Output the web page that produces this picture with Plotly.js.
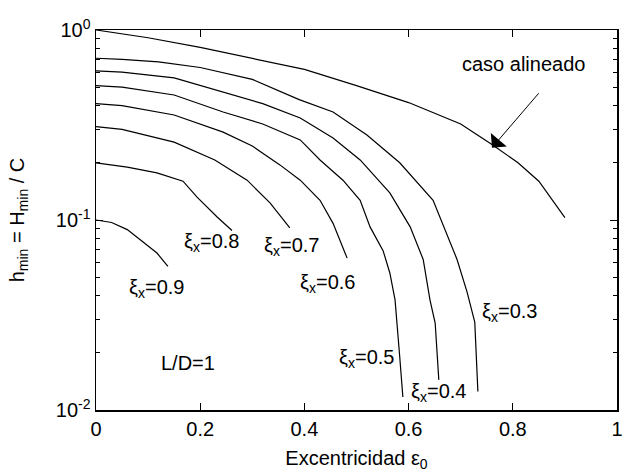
<!DOCTYPE html>
<html>
<head>
<meta charset="utf-8">
<script src="https://cdn.plot.ly/plotly-3.0.1.min.js"></script>
<style>
  body { margin: 0; background: #fff; }
  #plot { width: 622px; height: 472px; }
</style>
</head>
<body>
<div id="plot"></div>
<script>
// curves: excentricity vs h_min (log scale)
var alinX = [0, 0.1, 0.2, 0.3, 0.4, 0.5, 0.6, 0.7, 0.76, 0.81, 0.85, 0.9];
var alinY = [1.0, 0.91, 0.81, 0.71, 0.62, 0.51, 0.415, 0.32, 0.25, 0.2, 0.16, 0.103];

var xi03X = [0, 0.05, 0.12, 0.2, 0.3, 0.39, 0.455, 0.52, 0.583, 0.647, 0.693, 0.712, 0.727, 0.733];
var xi03Y = [0.71, 0.70, 0.68, 0.635, 0.55, 0.43, 0.37, 0.28, 0.2, 0.127, 0.062, 0.042, 0.029, 0.0125];

var xi04X = [0, 0.05, 0.15, 0.244, 0.32, 0.392, 0.455, 0.507, 0.564, 0.603, 0.628, 0.641, 0.651, 0.658];
var xi04Y = [0.61, 0.6, 0.56, 0.47, 0.41, 0.344, 0.27, 0.207, 0.139, 0.092, 0.062, 0.038, 0.0287, 0.0144];

var xi05X = [0, 0.05, 0.15, 0.244, 0.32, 0.392, 0.43, 0.474, 0.507, 0.526, 0.551, 0.564, 0.574, 0.578, 0.583, 0.589];
var xi05Y = [0.51, 0.5, 0.455, 0.37, 0.32, 0.264, 0.207, 0.162, 0.127, 0.092, 0.069, 0.0526, 0.038, 0.0287, 0.019, 0.0117];

var xi06X = [0, 0.05, 0.15, 0.244, 0.3, 0.353, 0.392, 0.43, 0.455, 0.482];
var xi06Y = [0.41, 0.4, 0.357, 0.29, 0.245, 0.195, 0.162, 0.127, 0.096, 0.063];

var xi07X = [0, 0.05, 0.15, 0.228, 0.29, 0.334, 0.372];
var xi07Y = [0.31, 0.3, 0.257, 0.207, 0.162, 0.123, 0.091];

var xi08X = [0, 0.06, 0.117, 0.167, 0.194, 0.232, 0.261];
var xi08Y = [0.2, 0.19, 0.177, 0.16, 0.132, 0.104, 0.088];

var xi09X = [0, 0.03, 0.06, 0.09, 0.117, 0.138];
var xi09Y = [0.1, 0.097, 0.089, 0.077, 0.067, 0.057];

// curve labels and where they sit
var labelText = ['0.9', '0.8', '0.7', '0.6', '0.5', '0.4', '0.3'];
var labelX = [0.117, 0.221, 0.376, 0.445, 0.52, 0.658, 0.793];
var labelY = [0.0435, 0.0757, 0.0729, 0.0465, 0.0187, 0.0123, 0.0327];

var xTicks = [0, 0.2, 0.4, 0.6, 0.8, 1];
var xTickText = ['0', '0.2', '0.4', '0.6', '0.8', '1'];
var yTicks = [0.01, 0.1, 1];
var yTickText = ['10<sup>-2</sup>', '10<sup>-1</sup>', '10<sup>0</sup>'];
var yMinor = [0.02, 0.03, 0.04, 0.05, 0.06, 0.07, 0.08, 0.09,
              0.2, 0.3, 0.4, 0.5, 0.6, 0.7, 0.8, 0.9];

var fnt = {family: 'Liberation Sans, Arial, sans-serif', size: 20, color: '#000'};

function curve(x, y) {
  return {x: x, y: y, mode: 'lines', type: 'scatter',
          line: {color: '#000', width: 1.2}, hoverinfo: 'skip'};
}

var data = [
  curve(alinX, alinY),
  curve(xi03X, xi03Y),
  curve(xi04X, xi04Y),
  curve(xi05X, xi05Y),
  curve(xi06X, xi06Y),
  curve(xi07X, xi07Y),
  curve(xi08X, xi08Y),
  curve(xi09X, xi09Y)
];

var annotations = labelText.map(function (t, i) {
  return {x: labelX[i], y: Math.log10(labelY[i]), xref: 'x', yref: 'y',
          text: '\u03BE<sub>x</sub>=' + t, showarrow: false, font: fnt};
});
annotations.push({x: 0.176, y: Math.log10(0.0177), xref: 'x', yref: 'y',
                  text: 'L/D=1', showarrow: false, font: fnt});
// arrow pointing at the aligned case curve
annotations.push({x: 0.76, y: Math.log10(0.24), xref: 'x', yref: 'y',
                  text: '', showarrow: true, arrowhead: 1,
                  arrowsize: 3.5, arrowwidth: 1, arrowcolor: '#000',
                  ax: 48, ay: -56});
annotations.push({x: 0.82, y: Math.log10(0.66), xref: 'x', yref: 'y',
                  text: 'caso alineado', showarrow: false, font: fnt});

var layout = {
  width: 622,
  height: 472,
  margin: {l: 96, r: 5, t: 30, b: 62},
  paper_bgcolor: '#fff',
  plot_bgcolor: '#fff',
  showlegend: false,
  font: fnt,
  xaxis: {
    range: [0, 1],
    tickvals: xTicks,
    ticktext: xTickText,
    ticklabeloverflow: 'allow',
    ticks: 'inside',
    ticklen: 7,
    tickcolor: '#000',
    showline: true,
    linecolor: '#000',
    linewidth: 1.5,
    mirror: 'ticks',
    showgrid: false,
    zeroline: false,
    title: {text: 'Excentricidad \u03B5<sub>0</sub>', font: fnt, standoff: 12}
  },
  yaxis: {
    type: 'log',
    range: [-2, 0],
    tickvals: yTicks,
    ticktext: yTickText,
    ticks: 'inside',
    ticklen: 7,
    tickcolor: '#000',
    minor: {tickvals: yMinor, ticks: 'inside', ticklen: 4, tickcolor: '#000', showgrid: false},
    showline: true,
    linecolor: '#000',
    linewidth: 1.5,
    mirror: 'ticks',
    showgrid: false,
    zeroline: false,
    title: {text: 'h<sub>min</sub> = H<sub>min</sub> / C', font: fnt, standoff: 26}
  },
  annotations: annotations
};

Plotly.newPlot('plot', data, layout, {staticPlot: true});
</script>
</body>
</html>
